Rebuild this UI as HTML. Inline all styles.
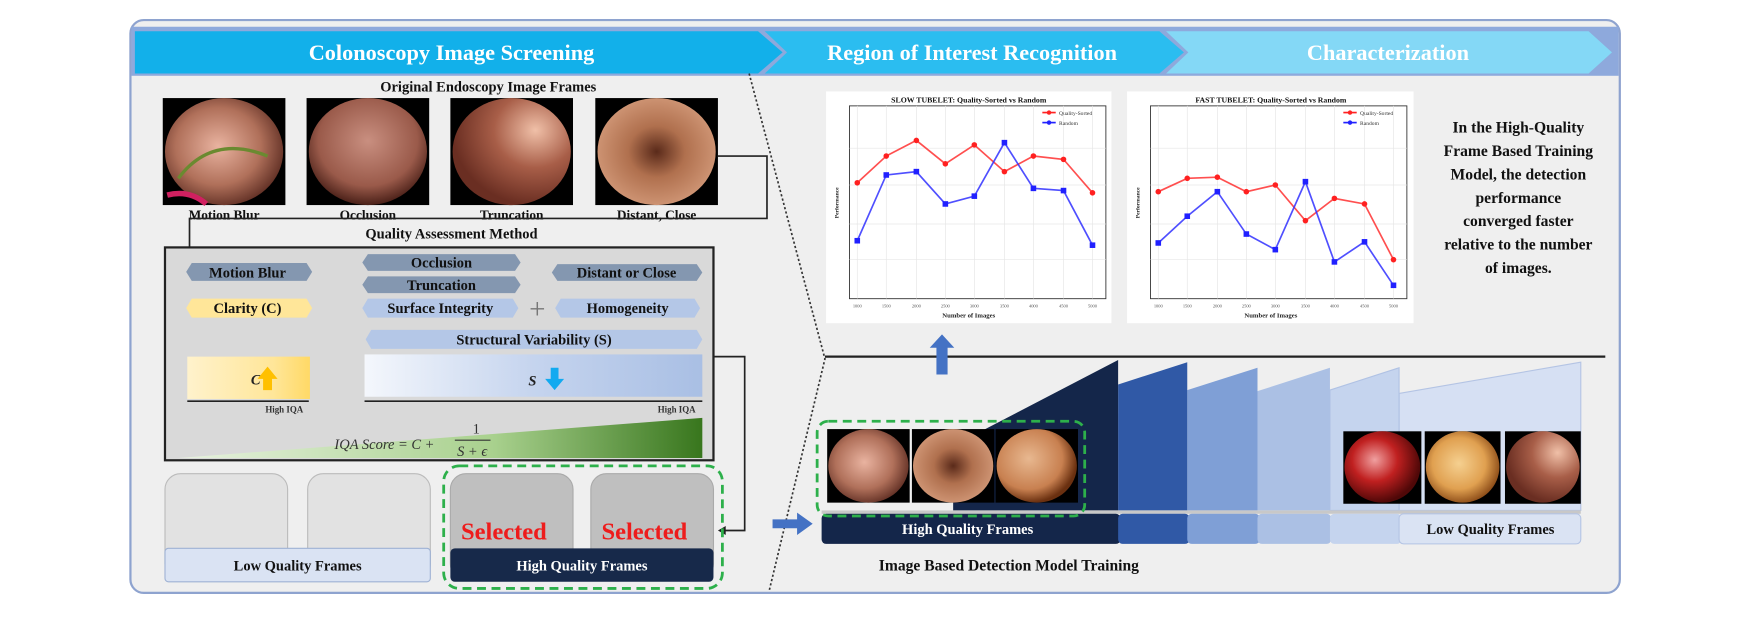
<!DOCTYPE html>
<html><head><meta charset="utf-8"><style>
html,body{margin:0;padding:0;background:#fff;}
svg{display:block;font-family:"Liberation Serif",serif;font-weight:bold;}
</style></head><body>
<svg width="1748" height="623" viewBox="0 0 1568 559" preserveAspectRatio="none" xmlns="http://www.w3.org/2000/svg">
<defs>
<radialGradient id="e1" cx="45%" cy="45%" r="60%"><stop offset="0" stop-color="#e9b3a0"/><stop offset="0.6" stop-color="#b0705a"/><stop offset="1" stop-color="#5a2a20"/></radialGradient>
<radialGradient id="e2" cx="50%" cy="40%" r="60%"><stop offset="0" stop-color="#c98f80"/><stop offset="0.7" stop-color="#9a5a4a"/><stop offset="1" stop-color="#4a2018"/></radialGradient>
<radialGradient id="e3" cx="70%" cy="30%" r="70%"><stop offset="0" stop-color="#f0c0a8"/><stop offset="0.5" stop-color="#a85e48"/><stop offset="1" stop-color="#6a2e22"/></radialGradient>
<radialGradient id="e4" cx="50%" cy="50%" r="60%"><stop offset="0" stop-color="#5a2a1a"/><stop offset="0.4" stop-color="#b0704e"/><stop offset="1" stop-color="#d8a080"/></radialGradient>
<radialGradient id="e5" cx="40%" cy="40%" r="60%"><stop offset="0" stop-color="#e8b890"/><stop offset="0.7" stop-color="#c88050"/><stop offset="1" stop-color="#6a3010"/></radialGradient>
<radialGradient id="e6" cx="40%" cy="40%" r="60%"><stop offset="0" stop-color="#f0a0a0"/><stop offset="0.5" stop-color="#c02020"/><stop offset="1" stop-color="#500808"/></radialGradient>
<radialGradient id="e7" cx="45%" cy="45%" r="60%"><stop offset="0" stop-color="#f5d090"/><stop offset="0.6" stop-color="#e0a050"/><stop offset="1" stop-color="#804010"/></radialGradient>
<linearGradient id="yel" x1="0" x2="1"><stop offset="0" stop-color="#fff2cc"/><stop offset="0.7" stop-color="#ffe699"/><stop offset="1" stop-color="#ffd966"/></linearGradient>
<linearGradient id="blu" x1="0" x2="1"><stop offset="0" stop-color="#f4f7fc"/><stop offset="0.5" stop-color="#c5d4ee"/><stop offset="1" stop-color="#a9bfe4"/></linearGradient>
<linearGradient id="grn" x1="0" x2="1"><stop offset="0" stop-color="#e8f2e0"/><stop offset="0.6" stop-color="#a9d18e"/><stop offset="1" stop-color="#38761d"/></linearGradient>
</defs>

<rect x="117" y="18" width="1336" height="514" rx="12" fill="#efefef" stroke="#8ea3cf" stroke-width="2"/>
<rect x="118" y="24" width="1334" height="44" fill="#8ea9dc"/>
<polygon points="121,28 680,28 702,47 680,66 121,66" fill="#12b0ea"/>
<polygon points="686,28 1040,28 1062,47 1040,66 686,66 706,47" fill="#2bbdf0"/>
<polygon points="1046,28 1425,28 1446,47 1425,66 1046,66 1066,47" fill="#84d8f6"/>
<text x="405" y="54" font-size="20" fill="#fff" text-anchor="middle">Colonoscopy Image Screening</text>
<text x="872" y="54" font-size="20" fill="#fff" text-anchor="middle">Region of Interest Recognition</text>
<text x="1245" y="54" font-size="20" fill="#fff" text-anchor="middle">Characterization</text>

<text x="438" y="82" font-size="13" text-anchor="middle" fill="#111">Original Endoscopy Image Frames</text>
<rect x="146" y="88" width="110" height="96" fill="#000"/><ellipse cx="201" cy="136" rx="53" ry="48" fill="url(#e1)"/>
<path d="M160,160 Q190,120 240,140" stroke="#6a8a30" stroke-width="3" fill="none"/><path d="M150,175 Q170,170 185,183" stroke="#d02060" stroke-width="5" fill="none"/>
<rect x="275" y="88" width="110" height="96" fill="#000"/><ellipse cx="330" cy="136" rx="53" ry="48" fill="url(#e2)"/>
<rect x="404" y="88" width="110" height="96" fill="#000"/><ellipse cx="459" cy="136" rx="53" ry="48" fill="url(#e3)"/>
<rect x="534" y="88" width="110" height="96" fill="#000"/><ellipse cx="589" cy="136" rx="53" ry="48" fill="url(#e4)"/>
<g font-size="12" text-anchor="middle" fill="#111">
<text x="201" y="197">Motion Blur</text><text x="330" y="197">Occlusion</text><text x="459" y="197">Truncation</text><text x="589" y="197">Distant, Close</text></g>
<text x="405" y="214" font-size="13" text-anchor="middle" fill="#111">Quality Assessment Method</text>
<polyline points="644,140 688,140 688,196 170,196 170,232" fill="none" stroke="#222" stroke-width="1.5"/>
<polygon points="166,230 174,230 170,237" fill="#222"/>

<rect x="148" y="222" width="492" height="191" fill="#d9d9d9" stroke="#222" stroke-width="2"/>
<g font-size="13" text-anchor="middle" fill="#111">
<polygon points="172,236 275,236 280,244 275,252 172,252 167,244" fill="#8497b0"/><text x="222" y="249">Motion Blur</text>
<polygon points="330,228 462,228 467,235.5 462,243 330,243 325,235.5" fill="#8497b0"/><text x="396" y="240">Occlusion</text>
<polygon points="330,248 462,248 467,255.5 462,263 330,263 325,255.5" fill="#8497b0"/><text x="396" y="260">Truncation</text>
<polygon points="500,237 625,237 630,244.5 625,252 500,252 495,244.5" fill="#8497b0"/><text x="562" y="249">Distant or Close</text>
<polygon points="172,268 275,268 280,276.5 275,285 172,285 167,276.5" fill="#ffe699"/><text x="222" y="281">Clarity (C)</text>
<polygon points="330,268 460,268 465,276.5 460,285 330,285 325,276.5" fill="#b4c7e7"/><text x="395" y="281">Surface Integrity</text>
<polygon points="503,268 623,268 628,276.5 623,285 503,285 498,276.5" fill="#b4c7e7"/><text x="563" y="281">Homogeneity</text>
<polygon points="333,296 625,296 630,304.5 625,313 333,313 328,304.5" fill="#b4c7e7"/><text x="479" y="309">Structural Variability (S)</text>
</g>
<text x="482" y="286" font-size="26" font-weight="normal" fill="#777" text-anchor="middle">+</text>
<rect x="168" y="320" width="110" height="38" fill="url(#yel)"/>
<text x="225" y="345" font-size="13" font-style="italic" fill="#222">C</text>
<polygon points="236,350 236,340 231,340 240,329 249,340 244,340 244,350" fill="#ffc000"/>
<line x1="168" y1="360" x2="277" y2="360" stroke="#222" stroke-width="1.5"/>
<text x="255" y="370" font-size="8" text-anchor="middle" fill="#333">High IQA</text>
<rect x="327" y="318" width="303" height="38" fill="url(#blu)"/>
<text x="474" y="346" font-size="13" font-style="italic" fill="#222">S</text>
<polygon points="494,330 501,330 501,340 506,340 497.5,350 489,340 494,340" fill="#12aaf0"/>
<line x1="327" y1="360" x2="630" y2="360" stroke="#222" stroke-width="1.5"/>
<text x="607" y="370" font-size="8" text-anchor="middle" fill="#333">High IQA</text>
<polygon points="160,411 630,375 630,411" fill="url(#grn)"/>
<g font-family="Liberation Serif,serif" font-style="italic" font-weight="normal" fill="#333" font-size="13">
<text x="300" y="403">IQA Score = C +</text>
<text x="424" y="389" font-style="normal">1</text>
<line x1="408" y1="395" x2="440" y2="395" stroke="#333" stroke-width="1"/>
<text x="410" y="409">S + ϵ</text></g>
<polyline points="640,320 668,320 668,476 650,476" fill="none" stroke="#222" stroke-width="1.5"/>
<polygon points="651,472 651,480 644,476" fill="#222"/>

<rect x="148" y="425" width="110" height="95" rx="14" fill="#e2e2e2" stroke="#bbb"/>
<rect x="276" y="425" width="110" height="95" rx="14" fill="#e2e2e2" stroke="#bbb"/>
<rect x="148" y="492" width="238" height="30" rx="3" fill="#dae3f3" stroke="#9fb2d4"/>
<text x="267" y="512" font-size="13" text-anchor="middle" fill="#111">Low Quality Frames</text>
<rect x="404" y="425" width="110" height="95" rx="14" fill="#bfbfbf" stroke="#aaa"/>
<rect x="530" y="425" width="110" height="95" rx="14" fill="#bfbfbf" stroke="#aaa"/>
<text x="452" y="484" font-size="22" text-anchor="middle" fill="#ee1c1c">Selected</text>
<text x="578" y="484" font-size="22" text-anchor="middle" fill="#ee1c1c">Selected</text>
<rect x="404" y="492" width="236" height="30" rx="4" fill="#17294a"/>
<text x="522" y="512" font-size="13" text-anchor="middle" fill="#fff">High Quality Frames</text>
<rect x="398" y="418" width="250" height="110" rx="14" fill="none" stroke="#2db04b" stroke-width="2.5" stroke-dasharray="8,5"/>

<polyline points="672,66 740,322 690,530" fill="none" stroke="#333" stroke-width="1.5" stroke-dasharray="2,2"/>
<line x1="740" y1="320" x2="1440" y2="320" stroke="#222" stroke-width="2"/>

<g font-weight="normal">
<rect x="741" y="82" width="256" height="208" fill="#fff"/>
<text x="869" y="92" font-size="7" font-weight="bold" text-anchor="middle" fill="#111">SLOW TUBELET: Quality-Sorted vs Random</text>
<rect x="762" y="95" width="230" height="173" fill="none" stroke="#333" stroke-width="0.8"/>
<g stroke="#e6e6e6" stroke-width="0.6">
<line x1="762" y1="133" x2="992" y2="133"/><line x1="762" y1="166" x2="992" y2="166"/><line x1="762" y1="201" x2="992" y2="201"/><line x1="762" y1="233" x2="992" y2="233"/>
<line x1="769" y1="95" x2="769" y2="268"/><line x1="795" y1="95" x2="795" y2="268"/><line x1="822" y1="95" x2="822" y2="268"/><line x1="848" y1="95" x2="848" y2="268"/><line x1="874" y1="95" x2="874" y2="268"/><line x1="901" y1="95" x2="901" y2="268"/><line x1="927" y1="95" x2="927" y2="268"/><line x1="954" y1="95" x2="954" y2="268"/><line x1="980" y1="95" x2="980" y2="268"/></g>
<polyline points="769,164 795,140 822,126 848,147 874,130 901,154 927,140 954,143 980,173" fill="none" stroke="#ff3030" stroke-width="1.5" opacity="0.85"/>
<polyline points="769,216 795,157 822,154 848,183 874,176 901,128 927,169 954,171 980,220" fill="none" stroke="#3030ff" stroke-width="1.5" opacity="0.85"/>
<g fill="#ff2020"><circle cx="769" cy="164" r="2.5"/><circle cx="795" cy="140" r="2.5"/><circle cx="822" cy="126" r="2.5"/><circle cx="848" cy="147" r="2.5"/><circle cx="874" cy="130" r="2.5"/><circle cx="901" cy="154" r="2.5"/><circle cx="927" cy="140" r="2.5"/><circle cx="954" cy="143" r="2.5"/><circle cx="980" cy="173" r="2.5"/></g>
<g fill="#2020ff"><rect x="766.5" y="213.5" width="5" height="5"/><rect x="792.5" y="154.5" width="5" height="5"/><rect x="819.5" y="151.5" width="5" height="5"/><rect x="845.5" y="180.5" width="5" height="5"/><rect x="871.5" y="173.5" width="5" height="5"/><rect x="898.5" y="125.5" width="5" height="5"/><rect x="924.5" y="166.5" width="5" height="5"/><rect x="951.5" y="168.5" width="5" height="5"/><rect x="977.5" y="217.5" width="5" height="5"/></g>
<line x1="935" y1="101" x2="947" y2="101" stroke="#f22" stroke-width="1.5"/><circle cx="941" cy="101" r="2" fill="#f22"/><text x="950" y="103" font-size="5" fill="#333">Quality-Sorted</text>
<line x1="935" y1="110" x2="947" y2="110" stroke="#22f" stroke-width="1.5"/><circle cx="941" cy="110" r="2" fill="#22f"/><text x="950" y="112" font-size="5" fill="#333">Random</text>
<text x="869" y="285" font-size="6" font-weight="bold" text-anchor="middle" fill="#222">Number of Images</text>
<g font-size="4" fill="#555" text-anchor="middle"><text x="769" y="276">1000</text><text x="795" y="276">1500</text><text x="822" y="276">2000</text><text x="848" y="276">2500</text><text x="874" y="276">3000</text><text x="901" y="276">3500</text><text x="927" y="276">4000</text><text x="954" y="276">4500</text><text x="980" y="276">5000</text></g>
<text x="752" y="182" font-size="5" font-weight="bold" fill="#222" transform="rotate(-90 752 182)" text-anchor="middle">Performance</text>

<rect x="1011" y="82" width="257" height="208" fill="#fff"/>
<text x="1140" y="92" font-size="7" font-weight="bold" text-anchor="middle" fill="#111">FAST TUBELET: Quality-Sorted vs Random</text>
<rect x="1032" y="95" width="230" height="173" fill="none" stroke="#333" stroke-width="0.8"/>
<g stroke="#e6e6e6" stroke-width="0.6">
<line x1="1032" y1="133" x2="1262" y2="133"/><line x1="1032" y1="166" x2="1262" y2="166"/><line x1="1032" y1="201" x2="1262" y2="201"/><line x1="1032" y1="233" x2="1262" y2="233"/>
<line x1="1039" y1="95" x2="1039" y2="268"/><line x1="1065" y1="95" x2="1065" y2="268"/><line x1="1092" y1="95" x2="1092" y2="268"/><line x1="1118" y1="95" x2="1118" y2="268"/><line x1="1144" y1="95" x2="1144" y2="268"/><line x1="1171" y1="95" x2="1171" y2="268"/><line x1="1197" y1="95" x2="1197" y2="268"/><line x1="1224" y1="95" x2="1224" y2="268"/><line x1="1250" y1="95" x2="1250" y2="268"/></g>
<polyline points="1039,172 1065,160 1092,159 1118,172 1144,166 1171,198 1197,178 1224,183 1250,233" fill="none" stroke="#ff3030" stroke-width="1.5" opacity="0.85"/>
<polyline points="1039,218 1065,194 1092,172 1118,210 1144,224 1171,163 1197,235 1224,217 1250,256" fill="none" stroke="#3030ff" stroke-width="1.5" opacity="0.85"/>
<g fill="#ff2020"><circle cx="1039" cy="172" r="2.5"/><circle cx="1065" cy="160" r="2.5"/><circle cx="1092" cy="159" r="2.5"/><circle cx="1118" cy="172" r="2.5"/><circle cx="1144" cy="166" r="2.5"/><circle cx="1171" cy="198" r="2.5"/><circle cx="1197" cy="178" r="2.5"/><circle cx="1224" cy="183" r="2.5"/><circle cx="1250" cy="233" r="2.5"/></g>
<g fill="#2020ff"><rect x="1036.5" y="215.5" width="5" height="5"/><rect x="1062.5" y="191.5" width="5" height="5"/><rect x="1089.5" y="169.5" width="5" height="5"/><rect x="1115.5" y="207.5" width="5" height="5"/><rect x="1141.5" y="221.5" width="5" height="5"/><rect x="1168.5" y="160.5" width="5" height="5"/><rect x="1194.5" y="232.5" width="5" height="5"/><rect x="1221.5" y="214.5" width="5" height="5"/><rect x="1247.5" y="253.5" width="5" height="5"/></g>
<line x1="1205" y1="101" x2="1217" y2="101" stroke="#f22" stroke-width="1.5"/><circle cx="1211" cy="101" r="2" fill="#f22"/><text x="1220" y="103" font-size="5" fill="#333">Quality-Sorted</text>
<line x1="1205" y1="110" x2="1217" y2="110" stroke="#22f" stroke-width="1.5"/><circle cx="1211" cy="110" r="2" fill="#22f"/><text x="1220" y="112" font-size="5" fill="#333">Random</text>
<text x="1140" y="285" font-size="6" font-weight="bold" text-anchor="middle" fill="#222">Number of Images</text>
<g font-size="4" fill="#555" text-anchor="middle"><text x="1039" y="276">1000</text><text x="1065" y="276">1500</text><text x="1092" y="276">2000</text><text x="1118" y="276">2500</text><text x="1144" y="276">3000</text><text x="1171" y="276">3500</text><text x="1197" y="276">4000</text><text x="1224" y="276">4500</text><text x="1250" y="276">5000</text></g>
<text x="1022" y="182" font-size="5" font-weight="bold" fill="#222" transform="rotate(-90 1022 182)" text-anchor="middle">Performance</text>
</g>

<g font-size="14" text-anchor="middle" fill="#111">
<text x="1362" y="119">In the High-Quality</text>
<text x="1362" y="140">Frame Based Training</text>
<text x="1362" y="161">Model, the detection</text>
<text x="1362" y="182">performance</text>
<text x="1362" y="203">converged faster</text>
<text x="1362" y="224">relative to the number</text>
<text x="1362" y="245">of images.</text></g>

<polygon points="840,336 840,312 834,312 845,300 856,312 850,312 850,336" fill="#4472c4"/>

<polygon points="1255,353 1418,325 1418,458 1255,458" fill="#d6e0f3" stroke="#b4c4e4"/>
<polygon points="1193,350 1255,330 1255,458 1193,458" fill="#c5d4ee" stroke="#b0c2e4"/>
<polygon points="1128,351 1193,330 1193,458 1128,458" fill="#abc0e4"/>
<polygon points="1065,350 1128,330 1128,458 1065,458" fill="#7f9fd6"/>
<polygon points="1003,345 1065,325 1065,458 1003,458" fill="#3059a6"/>
<polygon points="855,400 1003,323 1003,458 855,458" fill="#14264a"/>
<rect x="737" y="458" width="681" height="3" fill="#c8c8c8"/>
<rect x="737" y="461" width="268" height="27" rx="4" fill="#14264a"/>
<rect x="1003" y="461" width="64" height="27" rx="4" fill="#3059a6"/>
<rect x="1065" y="461" width="65" height="27" rx="4" fill="#7f9fd6"/>
<rect x="1128" y="461" width="66" height="27" rx="4" fill="#abc0e4"/>
<rect x="1193" y="461" width="64" height="27" rx="4" fill="#c5d4ee"/>
<rect x="1255" y="461" width="163" height="27" rx="4" fill="#dae3f3" stroke="#b4c4e4"/>
<text x="868" y="479" font-size="13" text-anchor="middle" fill="#fff">High Quality Frames</text>
<text x="1337" y="479" font-size="13" text-anchor="middle" fill="#111">Low Quality Frames</text>
<rect x="742" y="385" width="74" height="66" fill="#000"/><ellipse cx="779" cy="418" rx="36" ry="33" fill="url(#e1)"/>
<rect x="818" y="385" width="74" height="66" fill="#000"/><ellipse cx="855" cy="418" rx="36" ry="33" fill="url(#e4)"/>
<rect x="893" y="385" width="74" height="66" fill="#000"/><ellipse cx="930" cy="418" rx="36" ry="33" fill="url(#e5)"/>
<rect x="733" y="378" width="240" height="85" rx="10" fill="none" stroke="#2db04b" stroke-width="2.5" stroke-dasharray="8,5"/>
<rect x="1205" y="387" width="70" height="65" fill="#000"/><ellipse cx="1240" cy="419" rx="34" ry="32" fill="url(#e6)"/>
<rect x="1278" y="387" width="68" height="65" fill="#000"/><ellipse cx="1312" cy="419" rx="33" ry="32" fill="url(#e7)"/>
<rect x="1350" y="387" width="68" height="65" fill="#000"/><ellipse cx="1384" cy="419" rx="33" ry="32" fill="url(#e3)"/>
<polygon points="693,466 715,466 715,460 729,470 715,480 715,474 693,474" fill="#4472c4"/>
<text x="905" y="512" font-size="14" text-anchor="middle" fill="#111">Image Based Detection Model Training</text>
</svg>
</body></html>
